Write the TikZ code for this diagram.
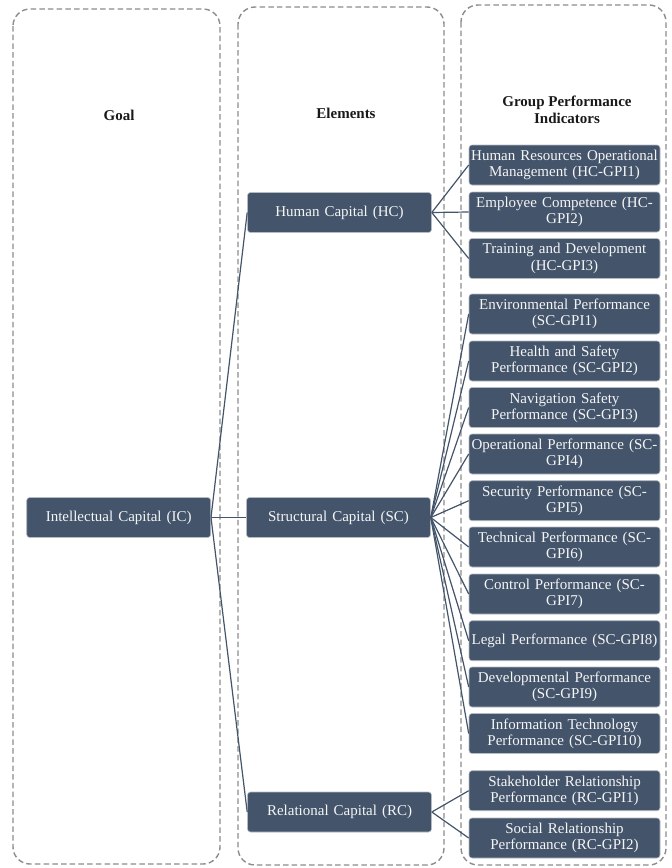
\documentclass[tikz,border=0pt]{standalone}
\usepackage{fontspec}
\setmainfont{Liberation Serif}
\definecolor{boxc}{HTML}{44546A}
\definecolor{dashc}{HTML}{8C8C8C}
\tikzset{
  container/.style={draw=dashc, line width=1.4pt, dash pattern=on 5.5pt off 3.2pt, rounded corners=17pt},
  ttl/.style={font=\fontsize{15}{17.5}\selectfont\bfseries, align=center, text=black!90},
  basebox/.style={fill=boxc, draw=boxc!40!white, line width=0.6pt, rounded corners=3pt, text=white!94!boxc,
    align=center, font=\fontsize{15}{16.3}\selectfont, minimum height=40pt, inner xsep=1pt, inner ysep=1pt},
  elbox/.style={basebox, text width=182pt},
  gpibox/.style={basebox, text width=189pt},
  link/.style={draw=boxc, line width=1.2pt}
}
\begin{document}
\begin{tikzpicture}[x=1pt,y=-1pt]
\useasboundingbox (0,0) rectangle (672,868);
% containers
\draw[container] (13,9) rectangle (220,864);
\draw[container] (238,7) rectangle (444,865);
\draw[container] (461,5) rectangle (666,865);
% titles
\node[ttl] (tgoal) at (119,115) {Goal};
\node[ttl] (tel) at (346,113) {Elements};
\node[ttl] (tgpi) at (567,110) {Group Performance\\Indicators};
% goal and elements
\node[elbox] (ic) at (118.7,517.5) {Intellectual Capital (IC)};
\node[elbox] (hc) at (339.5,212.5) {Human Capital (HC)};
\node[elbox] (sc) at (338.5,517.5) {Structural Capital (SC)};
\node[elbox] (rc) at (339.5,812) {Relational Capital (RC)};
% indicators
\node[gpibox] (hc1) at (564.5,165) {Human Resources Operational\\Management (HC-GPI1)};
\node[gpibox] (hc2) at (564.5,212) {Employee Competence (HC-\\GPI2)};
\node[gpibox] (hc3) at (564.5,258.5) {Training and Development\\(HC-GPI3)};
\node[gpibox] (sc1) at (564.5,314) {Environmental Performance\\(SC-GPI1)};
\node[gpibox] (sc2) at (564.5,361) {Health and Safety\\Performance (SC-GPI2)};
\node[gpibox] (sc3) at (564.5,407.5) {Navigation Safety\\Performance (SC-GPI3)};
\node[gpibox] (sc4) at (564.5,454) {Operational Performance (SC-\\GPI4)};
\node[gpibox] (sc5) at (564.5,500.7) {Security Performance (SC-\\GPI5)};
\node[gpibox] (sc6) at (564.5,547) {Technical Performance (SC-\\GPI6)};
\node[gpibox] (sc7) at (564.5,594) {Control Performance (SC-\\GPI7)};
\node[gpibox] (sc8) at (564.5,640.7) {Legal Performance (SC-GPI8)};
\node[gpibox] (sc9) at (564.5,687) {Developmental Performance\\(SC-GPI9)};
\node[gpibox] (sc10) at (564.5,733.5) {Information Technology\\Performance (SC-GPI10)};
\node[gpibox] (rc1) at (564.5,790.7) {Stakeholder Relationship\\Performance (RC-GPI1)};
\node[gpibox] (rc2) at (564.5,838) {Social Relationship\\Performance (RC-GPI2)};
% connectors
\foreach \t in {hc,sc,rc} \draw[link] (ic.east) -- (\t.west);
\foreach \t in {hc1,hc2,hc3} \draw[link] (hc.east) -- (\t.west);
\foreach \t in {sc1,sc2,sc3,sc4,sc5,sc6,sc7,sc8,sc9,sc10} \draw[link] (sc.east) -- (\t.west);
\foreach \t in {rc1,rc2} \draw[link] (rc.east) -- (\t.west);
\end{tikzpicture}
\end{document}
